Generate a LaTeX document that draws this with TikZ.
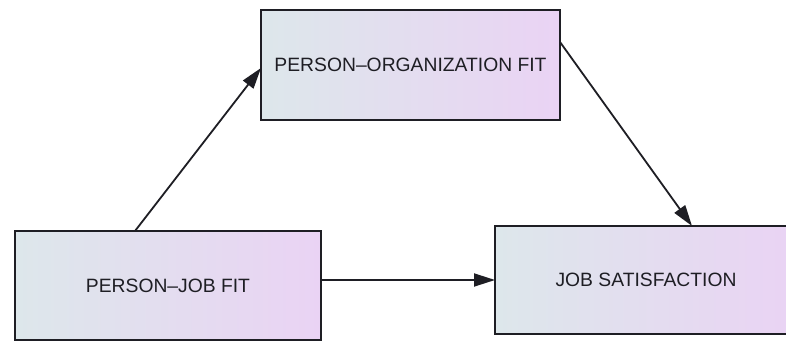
\documentclass[tikz,border=0pt]{standalone}
\usepackage{fontspec}
\setmainfont{Liberation Sans}
\usetikzlibrary{arrows.meta,calc}
\definecolor{lc}{HTML}{DDE7EB}
\definecolor{rc}{HTML}{EAD3F4}
\definecolor{ink}{HTML}{1E1E24}
\tikzset{
  fitbox/.style={draw=ink, line width=1.8pt, left color=lc, right color=rc,
    inner sep=0pt, outer sep=0pt, font=\fontsize{19.3}{22}\selectfont, text=ink},
  conn/.style={draw=ink, line width=1.8pt, -{Triangle[length=21pt,width=13pt]}}
}
\begin{document}
\begin{tikzpicture}[x=1pt,y=1pt]
\useasboundingbox (0,0) rectangle (786,341);
\clip (0,0) rectangle (786,341);
\fill[white] (0,0) rectangle (786,341);
\node[fitbox, minimum width=299pt, minimum height=110pt] (po) at (410.5,276) {PERSON–ORGANIZATION FIT};
\node[fitbox, minimum width=306pt, minimum height=109pt] (pj) at (168,55.5) {PERSON–JOB FIT};
\node[fitbox, minimum width=302pt, minimum height=108pt] (js) at (646,61) {JOB SATISFACTION};
\draw[conn] ([xshift=-33pt]pj.north) -- ([yshift=-3pt]po.west);
\draw[conn] ([yshift=23pt]po.east) -- ([xshift=46pt]js.north);
\draw[conn] (pj.east |- js.west) -- (js.west);
\end{tikzpicture}
\end{document}
